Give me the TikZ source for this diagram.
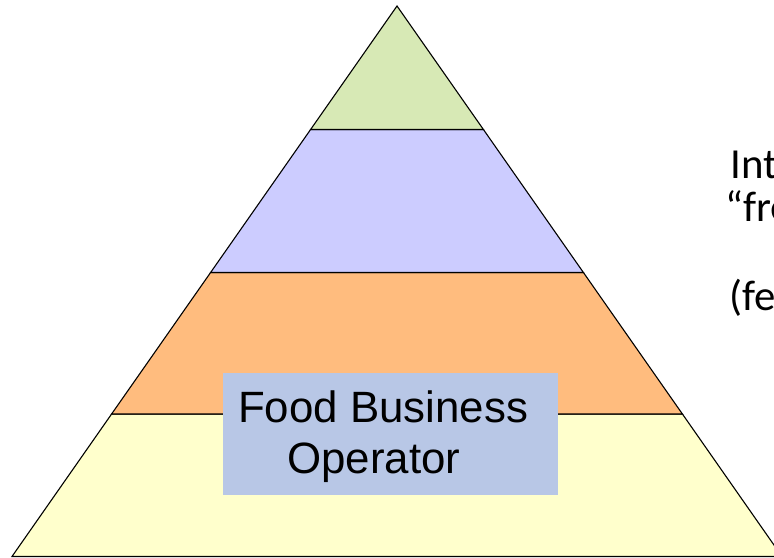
\documentclass[tikz,border=0pt]{standalone}
\usepackage{fontspec}
\setmainfont{Liberation Sans}
\newfontfamily\calib{Carlito}
\definecolor{bandgreen}{HTML}{D7E9B5}
\definecolor{bandblue}{HTML}{CCCCFF}
\definecolor{bandorange}{HTML}{FFBC7E}
\definecolor{bandyellow}{HTML}{FFFFCC}
\definecolor{boxblue}{HTML}{B8C7E6}
\tikzset{
  band/.style={draw=black, line width=1.1bp, line join=miter},
  lbl/.style={anchor=base west, inner sep=0pt, font=\fontsize{44}{44}\selectfont},
  side/.style={anchor=base west, inner sep=0pt, font=\calib\fontsize{43}{43}\selectfont}
}
\begin{document}
\begin{tikzpicture}[x=1bp,y=-1bp]
\useasboundingbox (0,0) rectangle (774,558);
\clip (0,0) rectangle (774,558);
\fill[white] (0,0) rectangle (774,558);
% pyramid bands
\filldraw[band, fill=bandyellow] (111.6,414) -- (682.4,414) -- (782,556.5) -- (12,556.5) -- cycle;
\filldraw[band, fill=bandorange] (210.6,272.5) -- (583.4,272.5) -- (682.4,414) -- (111.6,414) -- cycle;
\filldraw[band, fill=bandblue] (310.6,129.5) -- (483.4,129.5) -- (583.4,272.5) -- (210.6,272.5) -- cycle;
\filldraw[band, fill=bandgreen] (397,6) -- (483.4,129.5) -- (310.6,129.5) -- cycle;
% box
\node[fill=boxblue, minimum width=335bp, minimum height=122bp, inner sep=0pt, anchor=north west] (box) at (223,373) {};
\node[lbl] (fb) at (238,422) {Food Business};
\node[lbl] (op) at (287,473) {Operator};
% right partial text
\node[side] (t1) at (730,179) {Int};
\node[side] (t2) at (725,222) {“fre};
\node[side] (t3) at (729,310) {(fe};
\end{tikzpicture}
\end{document}
